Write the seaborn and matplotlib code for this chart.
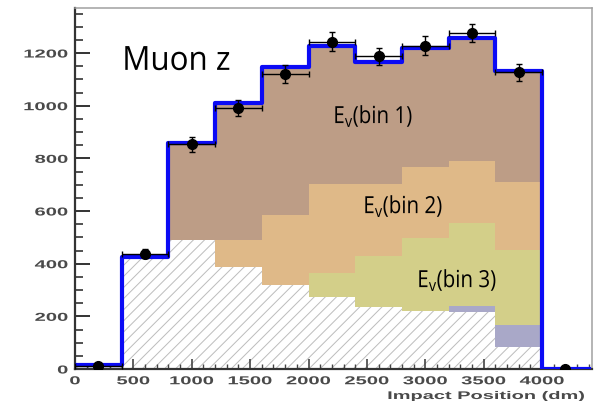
import numpy as np
import pandas as pd
import matplotlib
matplotlib.use("Agg")
import matplotlib.pyplot as plt
from matplotlib import patheffects
from matplotlib.transforms import Affine2D
from matplotlib.ticker import MultipleLocator
import seaborn as sns

# Binning of the impact position (dm)
bin_edges = [0, 400, 800, 1200, 1600, 2000, 2400, 2800, 3200, 3600, 4000, 4400]
bin_centers = [200, 600, 1000, 1400, 1800, 2200, 2600, 3000, 3400, 3800, 4200]

# Simulated contributions per bin (stacked from bottom to top)
other_bkg = [15, 427, 491, 388, 320, 274, 236, 220, 217, 84, 0]
minor_bkg = [0, 0, 0, 0, 0, 0, 0, 0, 22, 84, 0]
ev_bin3 = [0, 0, 0, 0, 0, 92, 194, 279, 317, 285, 0]
ev_bin2 = [0, 0, 0, 103, 265, 335, 271, 267, 233, 256, 0]
ev_bin1 = [0, 0, 366, 521, 561, 527, 464, 454, 468, 423, 0]

# Measured counts with uncertainties
data_counts = [10, 438, 853, 990, 1120, 1243, 1187, 1228, 1276, 1127, 0]
data_yerr = [6, 18, 29, 31, 33, 36, 33, 35, 35, 33, 0]
data_xerr = [200, 200, 200, 200, 200, 200, 200, 200, 200, 200, 0]

x_ticks = [0, 500, 1000, 1500, 2000, 2500, 3000, 3500, 4000]
y_ticks = [0, 200, 400, 600, 800, 1000, 1200]

layer_names = ["E_v(bin 1)", "E_v(bin 2)", "E_v(bin 3)", "minor", "other"]
layer_counts = [ev_bin1, ev_bin2, ev_bin3, minor_bkg, other_bkg]
layer_colors = ["#bd9d86", "#dfb988", "#d3cf89", "#a9a8c8", "#ffffff"]

rows = []
for name, counts in zip(layer_names, layer_counts):
    for c, n in zip(bin_centers, counts):
        rows.append((c, n, name))
mc = pd.DataFrame(rows, columns=["position", "count", "sample"])
total_mc = np.sum(layer_counts, axis=0)


class HStretch(patheffects.AbstractPathEffect):
    """Scale glyph outlines horizontally about an anchor edge."""

    def __init__(self, sx, anchor="center"):
        super().__init__()
        self._sx = sx
        self._anchor = anchor

    def draw_path(self, renderer, gc, tpath, affine, rgbFace=None):
        ext = tpath.get_extents(affine)
        if self._anchor == "right":
            cx = ext.x1
        elif self._anchor == "left":
            cx = ext.x0
        else:
            cx = 0.5 * (ext.x0 + ext.x1)
        stretch = Affine2D().translate(-cx, 0).scale(self._sx, 1.0).translate(cx, 0)
        renderer.draw_path(gc, tpath, affine + stretch, rgbFace)


plt.rcParams["hatch.linewidth"] = 0.7

fig = plt.figure(figsize=(5.99, 4.01), dpi=100)
ax = fig.add_axes([75 / 599, 1 - 369 / 401, (592 - 75) / 599, (369 - 8) / 401])

sns.histplot(
    data=mc, x="position", weights="count", hue="sample",
    hue_order=layer_names, palette=dict(zip(layer_names, layer_colors)),
    multiple="stack", bins=bin_edges, element="bars", alpha=1,
    linewidth=0, legend=False, ax=ax,
)

# hatch the white bottom layer
for p in ax.patches:
    fc = p.get_facecolor()
    if fc[0] > 0.99 and fc[1] > 0.99 and fc[2] > 0.99:
        p.set_hatch("///")
        p.set_edgecolor("#bcbcbc")
        p.set_linewidth(0)

# total simulation outline
sns.histplot(
    x=bin_centers, weights=total_mc, bins=bin_edges, element="step",
    fill=False, color="#0b0bf5", linewidth=3.0, ax=ax, zorder=4,
)

ax.errorbar(
    bin_centers, data_counts, yerr=data_yerr, xerr=data_xerr, fmt="o",
    color="black", ms=7, elinewidth=1.0, capsize=2.5, capthick=1.0, zorder=6,
)

ax.set_xlim(0, 4428)
ax.set_ylim(0, 1371)
ax.set_xticks(x_ticks)
ax.set_yticks(y_ticks)
ax.xaxis.set_minor_locator(MultipleLocator(100))
ax.yaxis.set_minor_locator(MultipleLocator(50))
ax.set_xlabel("")
ax.set_ylabel("")

ax.tick_params(axis="y", which="major", direction="in", length=10.5, width=1.4,
               color="#333333", pad=5, labelsize=8.3, labelcolor="#4a4a4a")
ax.tick_params(axis="y", which="minor", direction="in", length=5.5, width=1.2,
               color="#333333")
ax.tick_params(axis="x", which="major", direction="in", length=7, width=1.2,
               color="#444444", pad=4.5, labelsize=8.3, labelcolor="#4a4a4a")
ax.tick_params(axis="x", which="minor", direction="in", length=3.5, width=1.0,
               color="#444444")

for lbl in ax.get_yticklabels():
    lbl.set_fontweight("bold")
    lbl.set_fontfamily("Liberation Sans")
    lbl.set_path_effects([HStretch(1.75, "right")])
for lbl in ax.get_xticklabels():
    lbl.set_fontweight("bold")
    lbl.set_fontfamily("Liberation Sans")
    lbl.set_path_effects([HStretch(1.75, "center")])

for side in ("left", "bottom"):
    ax.spines[side].set_color("#333333")
    ax.spines[side].set_linewidth(1.6)
for side in ("top", "right"):
    ax.spines[side].set_color("#a0a0a0")
    ax.spines[side].set_linewidth(1.1)

fig.text(585 / 599, 1 - 396 / 401, "Impact Position (dm)", ha="right", va="center",
         fontsize=8, fontweight="bold", family="Liberation Sans", color="#4a4a4a",
         path_effects=[HStretch(1.8, "right")])

label_font = "Open Sans"
narrow_big = [HStretch(0.94, "left")]
narrow = [HStretch(0.87, "left")]
ax.text(403, 1136, "Muon z", fontsize=24, family=label_font, color="black",
        ha="left", va="baseline", zorder=7, path_effects=narrow_big)
ax.text(2210, 934, r"E$_{\mathregular{v}}$(bin 1)", fontsize=17, family=label_font,
        ha="left", va="baseline", zorder=7, path_effects=narrow)
ax.text(2467, 592, r"E$_{\mathregular{v}}$(bin 2)", fontsize=17, family=label_font,
        ha="left", va="baseline", zorder=7, path_effects=narrow)
ax.text(2929, 311, r"E$_{\mathregular{v}}$(bin 3)", fontsize=17, family=label_font,
        ha="left", va="baseline", zorder=7, path_effects=narrow)

fig.savefig("out.png", dpi=100, facecolor="white")
